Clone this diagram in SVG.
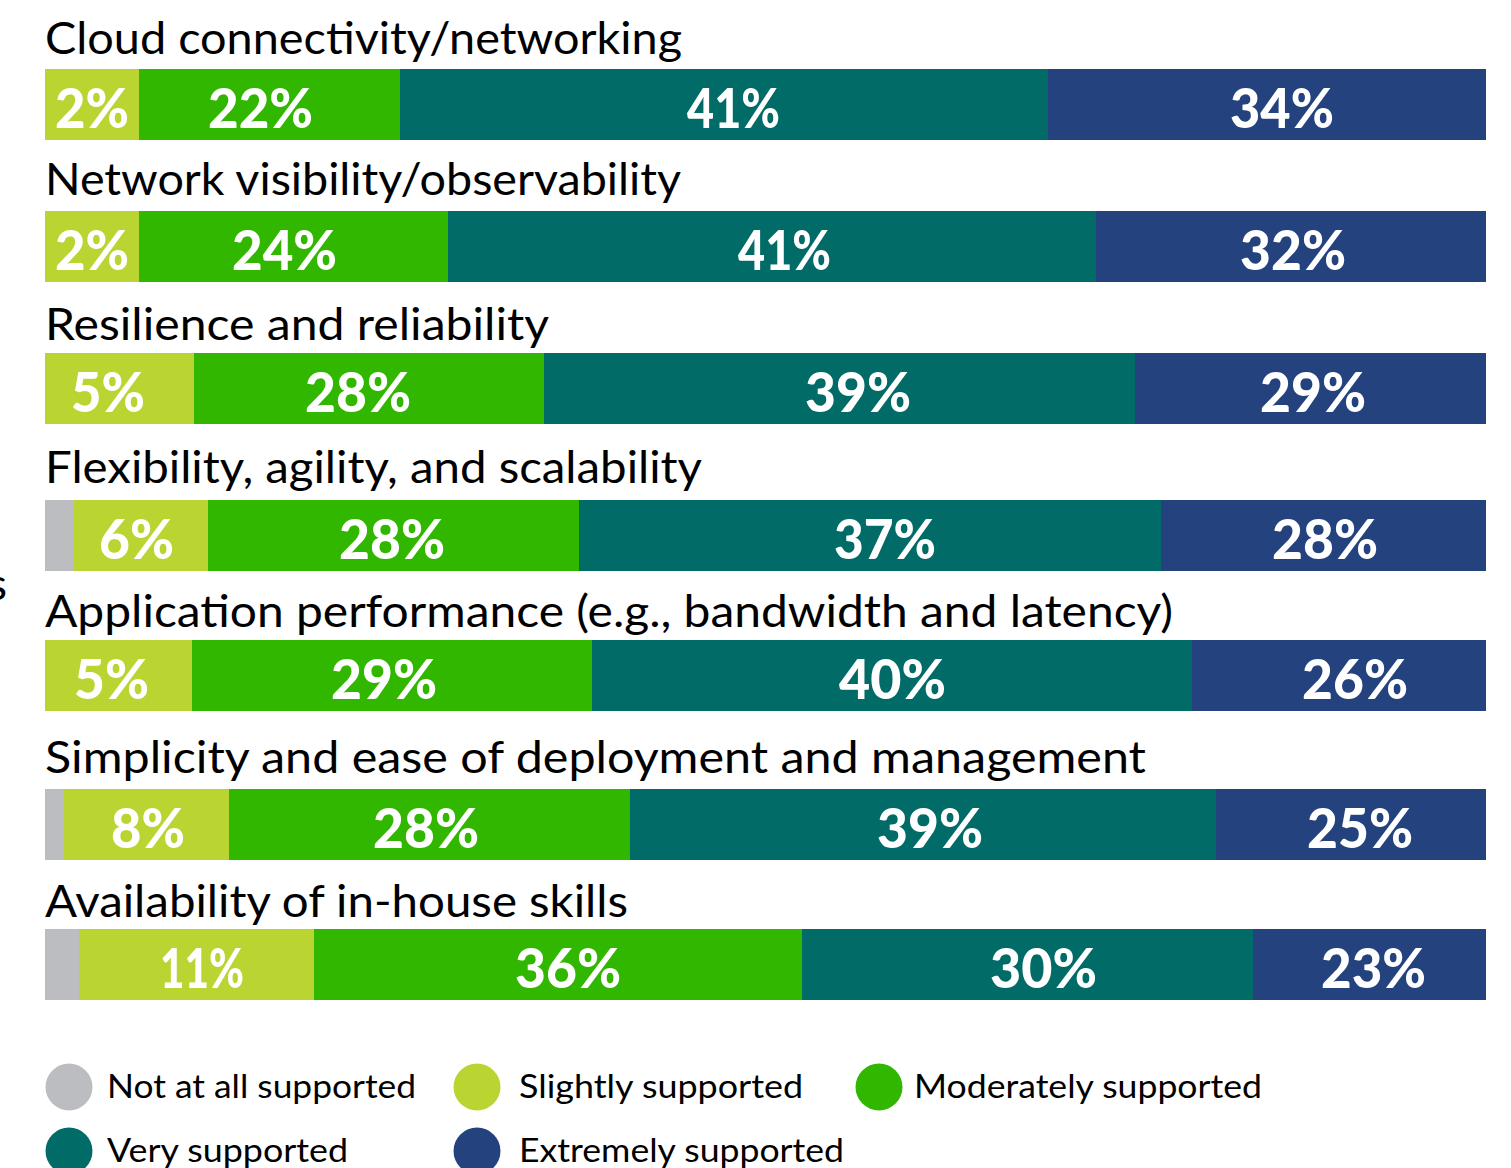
<svg xmlns="http://www.w3.org/2000/svg" width="1511" height="1168" viewBox="0 0 1511 1168">
<style>
.lbl{font-family:Lato,"Liberation Sans",sans-serif;font-size:45px;fill:#000}
.pct{font-family:Lato,"Liberation Sans",sans-serif;font-size:55px;font-weight:900;fill:#fff}
.leg{font-family:Lato,"Liberation Sans",sans-serif;font-size:33px;fill:#000}
.c0{fill:#bcbdc0}.c1{fill:#bad532}.c2{fill:#32b701}.c3{fill:#016b67}.c4{fill:#23427e}
</style>
<rect width="1511" height="1168" fill="#fff"/>
<text class="lbl" x="7" y="600" text-anchor="end">s</text>
<g id="row1">
<text class="lbl" x="45" y="54" textLength="637" lengthAdjust="spacingAndGlyphs">Cloud connectivity/networking</text>
<rect class="c1" x="45" y="69" width="94" height="71"/><rect class="c2" x="139" y="69" width="261" height="71"/><rect class="c3" x="400" y="69" width="648" height="71"/><rect class="c4" x="1048" y="69" width="438" height="71"/>
<text class="pct" x="55" y="128" textLength="74" lengthAdjust="spacingAndGlyphs">2%</text>
<text class="pct" x="208" y="128" textLength="105" lengthAdjust="spacingAndGlyphs">22%</text>
<text class="pct" x="687" y="128" textLength="93" lengthAdjust="spacingAndGlyphs">41%</text>
<text class="pct" x="1230" y="128" textLength="104" lengthAdjust="spacingAndGlyphs">34%</text>
</g>
<g id="row2">
<text class="lbl" x="45" y="195" textLength="636" lengthAdjust="spacingAndGlyphs">Network visibility/observability</text>
<rect class="c1" x="45" y="211" width="94" height="71"/><rect class="c2" x="139" y="211" width="309" height="71"/><rect class="c3" x="448" y="211" width="648" height="71"/><rect class="c4" x="1096" y="211" width="390" height="71"/>
<text class="pct" x="55" y="270" textLength="74" lengthAdjust="spacingAndGlyphs">2%</text>
<text class="pct" x="232" y="270" textLength="105" lengthAdjust="spacingAndGlyphs">24%</text>
<text class="pct" x="738" y="270" textLength="93" lengthAdjust="spacingAndGlyphs">41%</text>
<text class="pct" x="1240" y="270" textLength="106" lengthAdjust="spacingAndGlyphs">32%</text>
</g>
<g id="row3">
<text class="lbl" x="45" y="340" textLength="504" lengthAdjust="spacingAndGlyphs">Resilience and reliability</text>
<rect class="c1" x="45" y="353" width="149" height="71"/><rect class="c2" x="194" y="353" width="350" height="71"/><rect class="c3" x="544" y="353" width="591" height="71"/><rect class="c4" x="1135" y="353" width="351" height="71"/>
<text class="pct" x="71" y="412" textLength="74" lengthAdjust="spacingAndGlyphs">5%</text>
<text class="pct" x="305" y="412" textLength="106" lengthAdjust="spacingAndGlyphs">28%</text>
<text class="pct" x="805" y="412" textLength="106" lengthAdjust="spacingAndGlyphs">39%</text>
<text class="pct" x="1260" y="412" textLength="106" lengthAdjust="spacingAndGlyphs">29%</text>
</g>
<g id="row4">
<text class="lbl" x="45" y="483" textLength="657" lengthAdjust="spacingAndGlyphs">Flexibility, agility, and scalability</text>
<rect class="c0" x="45" y="500" width="29" height="71"/><rect class="c1" x="74" y="500" width="134" height="71"/><rect class="c2" x="208" y="500" width="371" height="71"/><rect class="c3" x="579" y="500" width="582" height="71"/><rect class="c4" x="1161" y="500" width="325" height="71"/>
<text class="pct" x="99" y="559" textLength="75" lengthAdjust="spacingAndGlyphs">6%</text>
<text class="pct" x="339" y="559" textLength="106" lengthAdjust="spacingAndGlyphs">28%</text>
<text class="pct" x="834" y="559" textLength="102" lengthAdjust="spacingAndGlyphs">37%</text>
<text class="pct" x="1272" y="559" textLength="106" lengthAdjust="spacingAndGlyphs">28%</text>
</g>
<g id="row5">
<text class="lbl" x="45" y="627" textLength="1128" lengthAdjust="spacingAndGlyphs">Application performance (e.g., bandwidth and latency)</text>
<rect class="c1" x="45" y="640" width="147" height="71"/><rect class="c2" x="192" y="640" width="400" height="71"/><rect class="c3" x="592" y="640" width="600" height="71"/><rect class="c4" x="1192" y="640" width="294" height="71"/>
<text class="pct" x="74" y="699" textLength="75" lengthAdjust="spacingAndGlyphs">5%</text>
<text class="pct" x="331" y="699" textLength="106" lengthAdjust="spacingAndGlyphs">29%</text>
<text class="pct" x="839" y="699" textLength="107" lengthAdjust="spacingAndGlyphs">40%</text>
<text class="pct" x="1302" y="699" textLength="106" lengthAdjust="spacingAndGlyphs">26%</text>
</g>
<g id="row6">
<text class="lbl" x="45" y="773" textLength="1101" lengthAdjust="spacingAndGlyphs">Simplicity and ease of deployment and management</text>
<rect class="c0" x="45" y="789" width="19" height="71"/><rect class="c1" x="64" y="789" width="165" height="71"/><rect class="c2" x="229" y="789" width="401" height="71"/><rect class="c3" x="630" y="789" width="586" height="71"/><rect class="c4" x="1216" y="789" width="270" height="71"/>
<text class="pct" x="111" y="848" textLength="74" lengthAdjust="spacingAndGlyphs">8%</text>
<text class="pct" x="373" y="848" textLength="106" lengthAdjust="spacingAndGlyphs">28%</text>
<text class="pct" x="877" y="848" textLength="106" lengthAdjust="spacingAndGlyphs">39%</text>
<text class="pct" x="1307" y="848" textLength="106" lengthAdjust="spacingAndGlyphs">25%</text>
</g>
<g id="row7">
<text class="lbl" x="45" y="917" textLength="583" lengthAdjust="spacingAndGlyphs">Availability of in-house skills</text>
<rect class="c0" x="45" y="929" width="34" height="71"/><rect class="c1" x="79" y="929" width="235" height="71"/><rect class="c2" x="314" y="929" width="488" height="71"/><rect class="c3" x="802" y="929" width="451" height="71"/><rect class="c4" x="1253" y="929" width="233" height="71"/>
<text class="pct" x="160" y="988" textLength="84" lengthAdjust="spacingAndGlyphs">11%</text>
<text class="pct" x="515" y="988" textLength="106" lengthAdjust="spacingAndGlyphs">36%</text>
<text class="pct" x="990" y="988" textLength="107" lengthAdjust="spacingAndGlyphs">30%</text>
<text class="pct" x="1321" y="988" textLength="105" lengthAdjust="spacingAndGlyphs">23%</text>
</g>
<g id="legend">
<circle class="c0" cx="69" cy="1087" r="23.5"/><text class="leg" x="107" y="1098" textLength="309" lengthAdjust="spacingAndGlyphs">Not at all supported</text>
<circle class="c1" cx="477" cy="1087" r="23.5"/><text class="leg" x="519" y="1098" textLength="284" lengthAdjust="spacingAndGlyphs">Slightly supported</text>
<circle class="c2" cx="879" cy="1087" r="23.5"/><text class="leg" x="914" y="1098" textLength="348" lengthAdjust="spacingAndGlyphs">Moderately supported</text>
<circle class="c3" cx="69" cy="1151" r="23.5"/><text class="leg" x="107" y="1162" textLength="241" lengthAdjust="spacingAndGlyphs">Very supported</text>
<circle class="c4" cx="477" cy="1151" r="23.5"/><text class="leg" x="519" y="1162" textLength="325" lengthAdjust="spacingAndGlyphs">Extremely supported</text>
</g>
</svg>
